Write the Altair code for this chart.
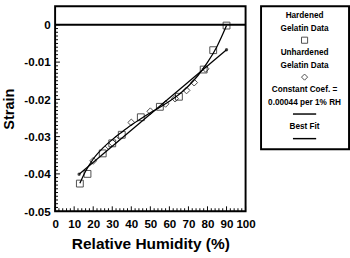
import altair as alt
import pandas as pd

# ---- data ----
hard_rh = [13, 17, 25, 30, 35, 45, 55, 65, 78, 83, 90]
hard_strain = [-0.0426, -0.0400, -0.0345, -0.0318, -0.0295, -0.0248, -0.0220, -0.0193, -0.0120, -0.0068, -0.0002]
unh_rh = [20, 28, 32, 40, 50, 58, 63, 69, 73, 79]
unh_strain = [-0.0365, -0.0325, -0.0308, -0.0262, -0.0232, -0.0212, -0.0198, -0.0176, -0.0155, -0.0118]
const_rh = [12.6, 90]
const_strain = [-0.0401, -0.0067]
fit_rh = [13, 16, 20, 25, 30, 35, 40, 45, 50, 55, 60, 65, 70, 75, 80, 85, 90]
fit_strain = [-0.0425, -0.0393, -0.0360, -0.0331, -0.0308, -0.0288, -0.0269, -0.0252, -0.0236, -0.0221, -0.0205, -0.0187, -0.0164, -0.0136, -0.0101, -0.0058, -0.0002]

x_major = [0, 10, 20, 30, 40, 50, 60, 70, 80, 90, 100]
x_minor = [v for v in range(0, 101, 2) if v % 10 != 0]
y_major = [-0.05, -0.04, -0.03, -0.02, -0.01, 0.0]
y_minor = [round(-0.05 + i * 0.001, 3) for i in range(51) if i % 10 != 0]

legend_rows = ["Hardened", "Gelatin Data", "", "Unhardened", "Gelatin Data", "",
               "Constant Coef. =", "0.00044 per 1% RH", "", "Best Fit", ""]

W, H = 197, 212
xs = alt.Scale(domain=[0, 100], nice=False)
ys = alt.Scale(domain=[-0.05, 0.005], nice=False)
FONT = "Liberation Sans"

hard = pd.DataFrame({"rh": hard_rh, "strain": hard_strain})
unh = pd.DataFrame({"rh": unh_rh, "strain": unh_strain})
const = pd.DataFrame({"rh": const_rh, "strain": const_strain})
fit = pd.DataFrame({"rh": fit_rh, "strain": fit_strain})

xax = alt.Axis(values=x_major, ticks=False, domain=False, grid=False, labelFlush=False,
               labelFontSize=12, labelFontWeight="bold", labelFont=FONT, labelPadding=8,
               labelOverlap=False,
               title="Relative Humidity (%)", titleFontSize=16, titleFontWeight="bold",
               titleFont=FONT, titlePadding=7)
yax = alt.Axis(values=y_major, ticks=False, domain=False, grid=False,
               labelExpr="datum.value == 0 ? '0' : '-0.0' + round(-datum.value*100)",
               labelFontSize=12, labelFontWeight="bold", labelFont=FONT, labelPadding=5,
               labelOverlap=False,
               title="Strain", titleFontSize=15, titleFontWeight="bold", titleFont=FONT,
               titlePadding=8)

def X(f):
    return alt.X(f, scale=xs, axis=xax)

def Y(f):
    return alt.Y(f, scale=ys, axis=yax)

base_fit = alt.Chart(fit).mark_line(color="black", strokeWidth=1.3, interpolate="monotone").encode(
    x=X("rh:Q"), y=Y("strain:Q"))
const_line = alt.Chart(const).mark_line(color="black", strokeWidth=1.3).encode(
    x=X("rh:Q"), y=Y("strain:Q"))
const_pts = alt.Chart(const).mark_point(shape="circle", filled=True, color="black", size=12).encode(
    x=X("rh:Q"), y=Y("strain:Q"))
sq = alt.Chart(hard).mark_point(shape="square", color="black", strokeWidth=1, size=50).encode(
    x=X("rh:Q"), y=Y("strain:Q"))
dm = alt.Chart(unh).mark_point(shape="diamond", color="black", strokeWidth=1, size=50).encode(
    x=X("rh:Q"), y=Y("strain:Q"))
zero = alt.Chart(pd.DataFrame({"strain": [0.0]})).mark_rule(color="black", strokeWidth=2).encode(
    y=Y("strain:Q"))

xt_minor = pd.DataFrame({"rh": x_minor})
xt_major = pd.DataFrame({"rh": x_major})
yt_minor = pd.DataFrame({"strain": y_minor})
yt_major = pd.DataFrame({"strain": y_major})
xticks_M = alt.Chart(xt_major).mark_rule(color="black", strokeWidth=1).encode(
    x=X("rh:Q"), y=alt.value(H), y2=alt.value(H - 5))
xticks_m = alt.Chart(xt_minor).mark_rule(color="black", strokeWidth=1).encode(
    x=X("rh:Q"), y=alt.value(H), y2=alt.value(H - 3))
yticks_M = alt.Chart(yt_major).mark_rule(color="black", strokeWidth=1).encode(
    y=Y("strain:Q"), x=alt.value(0), x2=alt.value(5))
yticks_m = alt.Chart(yt_minor).mark_rule(color="black", strokeWidth=1).encode(
    y=Y("strain:Q"), x=alt.value(0), x2=alt.value(3))

main = alt.layer(base_fit, const_line, const_pts, sq, dm, zero,
                 xticks_M, xticks_m, yticks_M, yticks_m).properties(width=W, height=H)

# ---- legend panel ----
leg = pd.DataFrame({"row": list(range(len(legend_rows))), "label": legend_rows})
ly = alt.Scale(domain=[-1, 10.63], range=[-3, 145], nice=False)
leg_text = alt.Chart(leg).transform_filter("datum.label != ''").mark_text(
    font=FONT, fontSize=8.5, fontWeight="bold", color="black", baseline="middle", align="center").encode(
    y=alt.Y("row:Q", scale=ly, axis=None), x=alt.value(45), text="label:N")
leg_sym = pd.DataFrame({"row": [2, 5], "shape": ["square", "diamond"]})
leg_marks = alt.Chart(leg_sym).mark_point(color="black", strokeWidth=1, size=40).encode(
    y=alt.Y("row:Q", scale=ly, axis=None), x=alt.value(45),
    shape=alt.Shape("shape:N", scale=alt.Scale(domain=["square", "diamond"], range=["square", "diamond"]), legend=None))
leg_lines = alt.Chart(pd.DataFrame({"row": [8, 10]})).mark_rule(color="black", strokeWidth=1.5).encode(
    y=alt.Y("row:Q", scale=ly, axis=None), x=alt.value(33), x2=alt.value(57))
legend = alt.layer(leg_text, leg_marks, leg_lines).properties(width=91, height=148)

chart = alt.hconcat(main, legend, spacing=3).configure_view(stroke="black", strokeWidth=2).properties(
    padding={"left": 0, "top": 1, "right": 0, "bottom": 0}, background="white")

chart.save("out.html", embed_options={"renderer": "svg", "actions": False})
